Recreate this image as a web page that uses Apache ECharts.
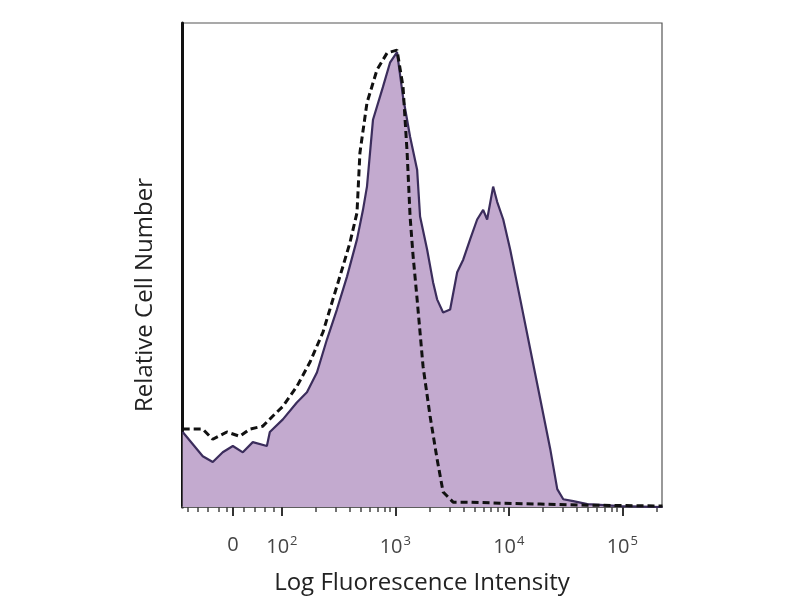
<!DOCTYPE html>
<html>
<head>
<meta charset="utf-8">
<script src="https://cdn.jsdelivr.net/npm/echarts@6/dist/echarts.min.js"></script>
<style>
  html, body { margin: 0; padding: 0; background: #fff; }
  #chart { width: 800px; height: 600px; }
</style>
</head>
<body>
<div id="chart"></div>
<script>
// x positions are in logicle "decade" units: 2 = 10^2, 3 = 10^3 ...
var stainedX = [1.126, 1.303, 1.391, 1.479, 1.568, 1.656, 1.744, 1.868, 1.894, 2.009, 2.132, 2.221,
    2.309, 2.397, 2.485, 2.574, 2.662, 2.715, 2.750, 2.803, 2.891, 2.953, 3.015, 3.068, 3.130, 3.192,
    3.218, 3.280, 3.333, 3.368, 3.421, 3.483, 3.545, 3.598, 3.659, 3.721, 3.774, 3.809, 3.862, 3.898,
    3.951, 4.012, 4.101, 4.189, 4.277, 4.365, 4.427, 4.480, 4.568, 4.692, 4.983, 5.354];
var stainedY = [15.5, 10.5, 9.3, 11.3, 12.6, 11.3, 13.4, 12.6, 15.5, 18.1, 21.6, 23.7,
    27.8, 34.6, 40.8, 47.6, 55.3, 61.4, 66.2, 80.0, 86.8, 91.8, 94.0, 84.7, 76.5, 69.7,
    60.0, 53.2, 46.4, 42.9, 40.2, 40.8, 48.5, 51.1, 55.3, 59.4, 61.4, 59.4, 66.2, 63.0,
    59.4, 53.2, 42.9, 32.6, 22.3, 12.0, 3.7, 1.6, 1.2, 0.6, 0.2, 0.0];

var isotypeX = [1.126, 1.303, 1.391, 1.515, 1.629, 1.718, 1.832, 1.921, 2.009, 2.132, 2.247, 2.362,
    2.450, 2.538, 2.600, 2.662, 2.688, 2.750, 2.838, 2.927, 3.015, 3.068, 3.104, 3.130, 3.156, 3.192,
    3.244, 3.306, 3.368, 3.421, 3.509, 3.659, 3.924, 4.277, 4.630, 4.983, 5.354];
var isotypeY = [16.1, 16.1, 14.0, 15.5, 14.6, 16.1, 16.7, 18.8, 20.8, 24.9, 29.9, 36.1,
    42.9, 49.7, 54.6, 60.8, 73.2, 83.5, 90.3, 93.8, 94.4, 86.8, 73.2, 60.0, 52.0, 42.9,
    29.1, 18.8, 9.9, 3.1, 1.0, 1.0, 0.8, 0.6, 0.4, 0.3, 0.2];

var majorTicks = [1.57, 2, 3, 4, 5];
var majorLabels = ['0', '10^2', '10^3', '10^4', '10^5'];
var minorTicks = [1.17, 1.26, 1.35, 1.44, 1.51, 1.66, 1.76, 1.85, 1.93,
    2.301, 2.477, 2.602, 2.699, 2.778, 2.845, 2.903, 2.954,
    3.301, 3.477, 3.602, 3.699, 3.778, 3.845, 3.903, 3.954,
    4.301, 4.477, 4.602, 4.699, 4.778, 4.845, 4.903, 4.954, 5.301];

function pairs(xs, ys) {
    return xs.map(function (x, i) { return [x, ys[i]]; });
}

var font = '"Open Sans", "DejaVu Sans", sans-serif';
var chart = echarts.init(document.getElementById('chart'));
chart.setOption({
    backgroundColor: '#fff',
    animation: false,
    grid: {
        left: 182, right: 138, top: 23, bottom: 92,
        show: true, borderColor: '#555', borderWidth: 1.2
    },
    xAxis: [{
        type: 'value', min: 1.12, max: 5.35, position: 'bottom',
        name: 'Log Fluorescence Intensity', nameLocation: 'middle', nameGap: 64,
        nameTextStyle: { fontFamily: font, fontSize: 24, color: '#222' },
        axisLine: { show: true, onZero: false, lineStyle: { color: '#444', width: 1.5 } },
        axisTick: { show: true, customValues: majorTicks, length: 9, lineStyle: { color: '#333', width: 2 } },
        axisLabel: {
            customValues: majorTicks, margin: 28, color: '#444',
            formatter: function (v) {
                for (var i = 0; i < majorTicks.length; i++) {
                    if (Math.abs(majorTicks[i] - v) < 1e-6) {
                        var p = majorLabels[i].split('^');
                        return p.length > 1 ? '{b|' + p[0] + '}{s|' + p[1] + '}' : '{b|' + p[0] + '}';
                    }
                }
                return '';
            },
            rich: {
                b: { fontFamily: font, fontSize: 20, color: '#444' },
                s: { fontFamily: font, fontSize: 13, color: '#444', padding: [0, 0, 11, 1] }
            }
        },
        splitLine: { show: false }
    }, {
        type: 'value', min: 1.12, max: 5.35, position: 'bottom',
        axisLine: { show: false, onZero: false },
        axisTick: { show: true, customValues: minorTicks, length: 5, lineStyle: { color: '#444', width: 1.5 } },
        axisLabel: { show: false },
        splitLine: { show: false }
    }],
    yAxis: {
        type: 'value', min: 0, max: 100,
        name: 'Relative Cell Number', nameLocation: 'middle', nameGap: 25,
        nameTextStyle: { fontFamily: font, fontSize: 24, color: '#222', padding: [0, 60, 0, 0] },
        axisLine: { show: true, lineStyle: { color: '#111', width: 3 } },
        axisTick: { show: false },
        axisLabel: { show: false },
        splitLine: { show: false }
    },
    series: [{
        name: 'stained',
        type: 'line',
        data: pairs(stainedX, stainedY),
        symbol: 'none',
        lineStyle: { color: '#3b2d5c', width: 2.2 },
        areaStyle: { color: '#c3aacf', opacity: 1 },
        z: 2
    }, {
        name: 'isotype',
        type: 'line',
        data: pairs(isotypeX, isotypeY),
        symbol: 'none',
        lineStyle: { color: '#111', width: 3, type: [7, 4] },
        z: 3
    }]
});
</script>
</body>
</html>
